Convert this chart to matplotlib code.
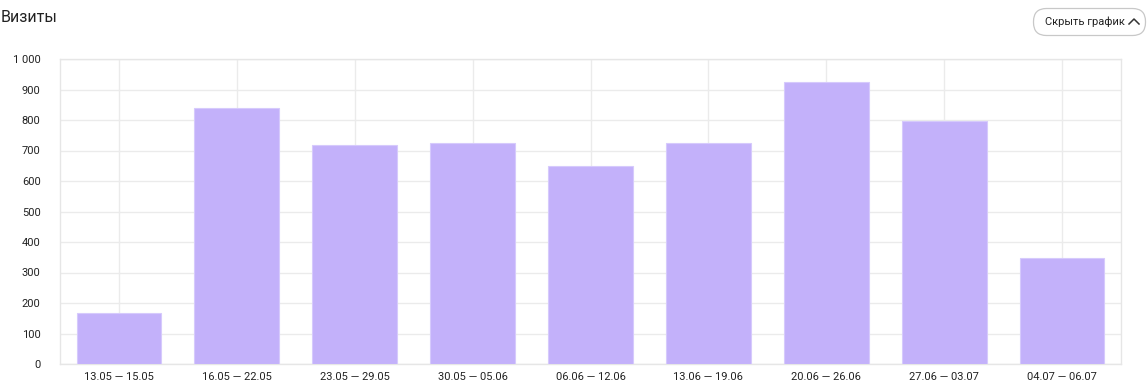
import matplotlib
matplotlib.use("Agg")
import matplotlib.pyplot as plt
from matplotlib.patches import FancyBboxPatch
from matplotlib.lines import Line2D
from matplotlib.transforms import IdentityTransform

plt.rcParams['font.family'] = ['Roboto', 'DejaVu Sans']

categories = ["13.05 — 15.05", "16.05 — 22.05", "23.05 — 29.05", "30.05 — 05.06",
              "06.06 — 12.06", "13.06 — 19.06", "20.06 — 26.06", "27.06 — 03.07",
              "04.07 — 06.07"]
visits = [168, 838, 718, 725, 648, 726, 926, 796, 348]
yticks = [0, 100, 200, 300, 400, 500, 600, 700, 800, 900, 1000]
ytick_labels = ["0", "100", "200", "300", "400", "500", "600", "700", "800", "900", "1 000"]

W, H = 1148, 385
fig = plt.figure(figsize=(W / 100, H / 100), dpi=100)
ax = fig.add_axes([60/W, 21/H, 1061/W, 305/H])

x = list(range(len(categories)))
ax.bar(x, visits, width=0.72, color="#c3b1fa", edgecolor="#d6cafc", linewidth=0.8, zorder=3)

ax.set_xlim(-0.5, len(categories) - 0.5)
ax.set_ylim(0, 1000)
ax.set_yticks(yticks)
ax.set_yticklabels(ytick_labels)
ax.set_xticks(x)
ax.set_xticklabels(categories)
ax.grid(True, color="#ebebeb", linewidth=1, zorder=0)
for s in ax.spines.values():
    s.set_color("#e6e6e6")
    s.set_linewidth(1)
ax.tick_params(length=0, labelsize=8, colors="#222222", pad=6)
ax.tick_params(axis='y', pad=14)

fig.text(1/W, 1 - 18/H, "Визиты", fontsize=11.5, color="#222222", va="center", ha="left")

# button (pixel coordinates, origin bottom-left)
btn = FancyBboxPatch((1033.5, H - 35.5), 112, 27,
                     boxstyle="round,pad=0,rounding_size=13", transform=IdentityTransform(),
                     facecolor="white", edgecolor="#c8c8c8", linewidth=0.9)
fig.patches.append(btn)
fig.text(1045/W, 1 - 21.5/H, "Скрыть график", fontsize=8, color="#222222", va="center", ha="left")
chev = Line2D([1129, 1134, 1139], [H - 24, H - 19, H - 24], transform=IdentityTransform(),
              color="#333333", linewidth=1.1)
fig.lines.append(chev)

fig.savefig("out.png", dpi=100)
